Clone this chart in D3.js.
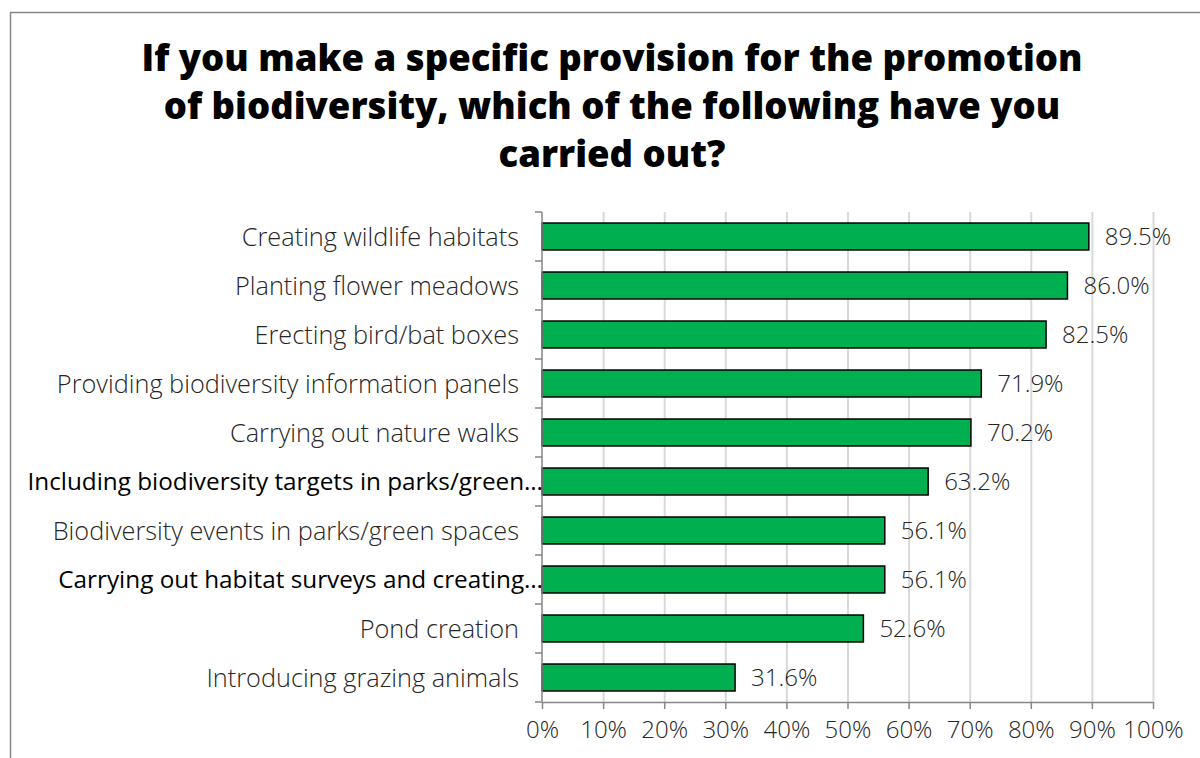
<!DOCTYPE html>
<html>
<head>
<meta charset="utf-8">
<script src="https://cdn.jsdelivr.net/npm/d3@7"></script>
<style>
  html, body { margin: 0; padding: 0; background: #fff; }
  svg { display: block; }
</style>
</head>
<body>
<svg id="chart" width="1200" height="758"></svg>
<script>
// Survey responses: share of respondents carrying out each biodiversity measure
const categories = [
  "Creating wildlife habitats",
  "Planting flower meadows",
  "Erecting bird/bat boxes",
  "Providing biodiversity information panels",
  "Carrying out nature walks",
  "Including biodiversity targets in parks/green\u2026",
  "Biodiversity events in parks/green spaces",
  "Carrying out habitat surveys and creating\u2026",
  "Pond creation",
  "Introducing grazing animals"
];
const values = [89.5, 86.0, 82.5, 71.9, 70.2, 63.2, 56.1, 56.1, 52.6, 31.6];
// Labels that were cut short use the darker, regular-weight style
const truncated = [false, false, false, false, false, true, false, true, false, false];
const tickValues = [0, 10, 20, 30, 40, 50, 60, 70, 80, 90, 100];
const titleLines = [
  "If you make a specific provision for the promotion",
  "of biodiversity, which of the following have you",
  "carried out?"
];

const svg = d3.select("#chart");
const plot = { left: 542, right: 1153, top: 212, bottom: 702 };
const lightFont = "'Segoe UI Light', 'Open Sans', 'Noto Sans', sans-serif";
const regFont = "'Segoe UI', 'Open Sans', 'Noto Sans', sans-serif";
const axisGrey = "#868686";

// Outer chart frame
svg.append("rect")
  .attr("x", 10.5).attr("y", 12.5)
  .attr("width", 1300).attr("height", 900)
  .attr("fill", "none").attr("stroke", axisGrey).attr("stroke-width", 1.5);

// Title
svg.append("g").selectAll("text")
  .data(titleLines)
  .join("text")
  .attr("x", 612)
  .attr("y", (d, i) => 71 + i * 48)
  .attr("text-anchor", "middle")
  .attr("font-family", regFont)
  .attr("font-weight", 800)
  .attr("font-size", 36.5)
  .attr("fill", "#000")
  .text(d => d);

const x = d3.scaleLinear().domain([0, 100]).range([plot.left, plot.right]);
const y = d3.scaleBand().domain(categories).range([plot.top, plot.bottom]).paddingInner(0.45).paddingOuter(0.225);

// Vertical gridlines
svg.append("g").selectAll("line")
  .data(tickValues.filter(v => v > 0))
  .join("line")
  .attr("x1", d => x(d) + 0.5).attr("x2", d => x(d) + 0.5)
  .attr("y1", plot.top).attr("y2", plot.bottom)
  .attr("stroke", "#d9d9d9").attr("stroke-width", 2);

// Bars
svg.append("g").selectAll("rect")
  .data(values)
  .join("rect")
  .attr("x", x(0))
  .attr("y", (d, i) => y(categories[i]))
  .attr("width", d => x(d) - x(0))
  .attr("height", y.bandwidth())
  .attr("fill", "#00b050")
  .attr("stroke", "#000")
  .attr("stroke-width", 1.5);

// X axis
const xAxis = d3.axisBottom(x)
  .tickValues(tickValues)
  .tickFormat(d => d + "%")
  .tickSizeInner(7)
  .tickSizeOuter(0)
  .tickPadding(12);
const gx = svg.append("g")
  .attr("transform", `translate(0,${plot.bottom})`)
  .call(xAxis);
gx.select(".domain").attr("stroke", axisGrey).attr("stroke-width", 1.5);
gx.selectAll(".tick line").attr("stroke", axisGrey).attr("stroke-width", 1.5);
gx.selectAll(".tick text")
  .attr("font-family", lightFont)
  .attr("font-weight", 300)
  .attr("font-size", 24)
  .attr("fill", "#262626");

// Y axis: line with ticks at the category boundaries
const gy = svg.append("g");
gy.append("line")
  .attr("x1", plot.left).attr("x2", plot.left)
  .attr("y1", plot.top).attr("y2", plot.bottom)
  .attr("stroke", axisGrey).attr("stroke-width", 1.5);
const step = y.step();
const boundaries = d3.range(categories.length + 1).map(i => plot.top + i * step);
gy.selectAll("line.tick")
  .data(boundaries)
  .join("line")
  .attr("class", "tick")
  .attr("x1", plot.left - 7).attr("x2", plot.left)
  .attr("y1", d => d).attr("y2", d => d)
  .attr("stroke", axisGrey).attr("stroke-width", 1.5);

// Category labels
svg.append("g").selectAll("text")
  .data(categories)
  .join("text")
  .attr("x", (d, i) => truncated[i] ? 543 : 519)
  .attr("y", d => y(d) + y.bandwidth() / 2)
  .attr("dy", "0.36em")
  .attr("text-anchor", "end")
  .attr("font-family", (d, i) => truncated[i] ? regFont : lightFont)
  .attr("font-weight", (d, i) => truncated[i] ? 400 : 300)
  .attr("font-size", (d, i) => truncated[i] ? 24.3 : 25.3)
  .attr("fill", (d, i) => truncated[i] ? "#000" : "#262626")
  .text(d => d);

// Value labels
svg.append("g").selectAll("text")
  .data(values)
  .join("text")
  .attr("x", d => x(d) + 16)
  .attr("y", (d, i) => y(categories[i]) + y.bandwidth() / 2)
  .attr("dy", "0.36em")
  .attr("font-family", lightFont)
  .attr("font-weight", 300)
  .attr("font-size", 24)
  .attr("fill", "#262626")
  .text(d => d.toFixed(1) + "%");
</script>
</body>
</html>
